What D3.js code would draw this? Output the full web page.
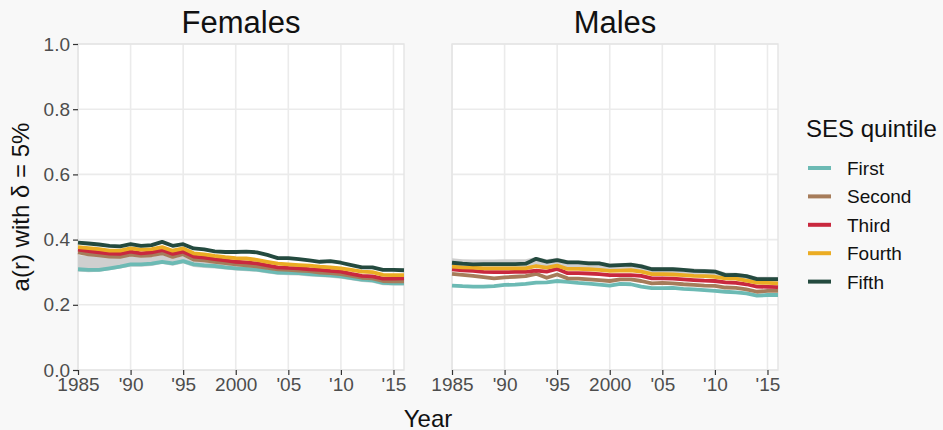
<!DOCTYPE html>
<html>
<head>
<meta charset="utf-8">
<script src="https://cdn.jsdelivr.net/npm/d3@7"></script>
<style>
  html, body { margin: 0; padding: 0; background: #f8f8f8; }
  svg { display: block; font-family: "Liberation Sans", Arial, sans-serif; }
</style>
</head>
<body>
<svg id="chart" width="943" height="430"></svg>
<script>
// ---- data -------------------------------------------------------------
const years = [1985, 1986, 1987, 1988, 1989, 1990, 1991, 1992, 1993, 1994, 1995,
  1996, 1997, 1998, 1999, 2000, 2001, 2002, 2003, 2004, 2005, 2006, 2007, 2008,
  2009, 2010, 2011, 2012, 2013, 2014, 2015, 2016];

const quintiles = ["First", "Second", "Third", "Fourth", "Fifth"];
const quintileColors = ["#6cbab4", "#a67c5a", "#c9283e", "#ebac23", "#244a3f"];

const panels = ["Females", "Males"];

// Females, a(r) by SES quintile
const femFirst  = [.309, .307, .307, .312, .317, .324, .324, .326, .332, .327, .334, .324, .321, .319, .315, .312, .310, .308, .303, .299, .298, .297, .294, .292, .290, .287, .282, .277, .275, .267, .266, .266];
const femSecond = [.361, .355, .352, .348, .347, .354, .350, .352, .358, .347, .355, .339, .336, .332, .328, .324, .321, .318, .313, .309, .307, .305, .303, .299, .297, .294, .289, .283, .281, .273, .272, .272];
const femThird  = [.369, .365, .361, .357, .356, .363, .358, .361, .368, .356, .363, .348, .345, .340, .336, .332, .330, .327, .321, .315, .313, .312, .309, .307, .304, .302, .295, .289, .287, .280, .280, .281];
const femFourth = [.377, .374, .371, .366, .366, .373, .369, .371, .377, .366, .373, .358, .355, .350, .346, .343, .342, .338, .332, .326, .324, .322, .320, .317, .315, .312, .307, .302, .300, .292, .291, .291];
const femFifth  = [.391, .388, .385, .381, .379, .386, .381, .383, .393, .381, .386, .373, .370, .364, .362, .362, .363, .361, .353, .343, .343, .340, .336, .332, .334, .329, .322, .315, .315, .307, .307, .306];
const femBandLow  = [.302, .300, .301, .306, .311, .317, .317, .319, .325, .320, .327, .316, .313, .311, .308, .305, .303, .301, .296, .292, .291, .290, .287, .285, .283, .280, .275, .270, .268, .260, .259, .259];
const femBandHigh = [.353, .350, .348, .345, .344, .350, .346, .348, .353, .343, .350, .335, .332, .328, .324, .320, .317, .314, .309, .305, .303, .301, .299, .295, .293, .290, .285, .279, .277, .269, .268, .268];

// Males, a(r) by SES quintile
const maleFirst  = [.259, .257, .256, .256, .257, .261, .262, .264, .268, .269, .273, .270, .267, .265, .262, .259, .264, .263, .256, .251, .251, .252, .249, .247, .245, .243, .240, .238, .235, .228, .230, .230];
const maleSecond = [.295, .292, .289, .285, .281, .284, .286, .288, .295, .283, .293, .281, .280, .278, .276, .273, .278, .278, .273, .266, .267, .266, .263, .261, .259, .258, .253, .252, .247, .240, .243, .243];
const maleThird  = [.309, .306, .304, .301, .300, .300, .301, .301, .305, .302, .310, .297, .297, .296, .294, .291, .291, .291, .289, .281, .281, .280, .278, .276, .274, .273, .269, .267, .263, .256, .255, .254];
const maleFourth = [.317, .315, .314, .312, .312, .312, .312, .312, .319, .314, .320, .310, .310, .309, .307, .304, .305, .306, .302, .294, .294, .293, .291, .289, .288, .286, .281, .280, .274, .268, .267, .266];
const maleFifth  = [.329, .326, .324, .325, .325, .325, .325, .326, .341, .332, .337, .330, .330, .327, .327, .320, .322, .323, .318, .309, .309, .309, .307, .304, .303, .302, .291, .292, .288, .279, .279, .279];
const maleBandLow  = [.315, .313, .312, .310, .310, .310, .310, .310, .317, .312, .318, .308, .308, .307, .305, .302, .303, .304, .300, .292, .292, .291, .289, .287, .286, .284, .279, .278, .272, .266, .265, .264];
const maleBandHigh = [.343, .340, .339, .339, .339, .340, .340, .340, .347, .340, .344, .337, .336, .334, .333, .327, .328, .329, .325, .316, .315, .315, .313, .311, .310, .309, .299, .298, .294, .286, .286, .285];

const xTicks = [1985, 1990, 1995, 2000, 2005, 2010, 2015];
const xTickLabels = ["1985", "'90", "'95", "2000", "'05", "'10", "'15"];
const yTicks = [0, 0.2, 0.4, 0.6, 0.8, 1.0];
const yTickLabels = ["0.0", "0.2", "0.4", "0.6", "0.8", "1.0"];

const panelSeries = {
  Females: { lines: [femFirst, femSecond, femThird, femFourth, femFifth], low: femBandLow, high: femBandHigh },
  Males:   { lines: [maleFirst, maleSecond, maleThird, maleFourth, maleFifth], low: maleBandLow, high: maleBandHigh }
};

// ---- layout -----------------------------------------------------------
const svg = d3.select("#chart");
const panelLeft = { Females: 78, Males: 452 };
const panelW = 326, panelTop = 44, panelBottom = 370;

const y = d3.scaleLinear().domain([0, 1]).range([panelBottom, panelTop]);

panels.forEach(name => {
  const x0 = panelLeft[name];
  const x = d3.scaleLinear().domain([1985, 2016]).range([x0, x0 + panelW]);
  const g = svg.append("g");

  // panel background
  g.append("rect")
    .attr("x", x0).attr("y", panelTop)
    .attr("width", panelW).attr("height", panelBottom - panelTop)
    .attr("fill", "#ffffff");

  // grid
  g.append("g").selectAll("line").data(yTicks).join("line")
    .attr("x1", x0).attr("x2", x0 + panelW)
    .attr("y1", d => y(d)).attr("y2", d => y(d))
    .attr("stroke", "#ebebeb").attr("stroke-width", 1.6);
  g.append("g").selectAll("line").data(xTicks).join("line")
    .attr("x1", d => x(d)).attr("x2", d => x(d))
    .attr("y1", panelTop).attr("y2", panelBottom)
    .attr("stroke", "#ebebeb").attr("stroke-width", 1.6);

  // panel border
  g.append("rect")
    .attr("x", x0).attr("y", panelTop)
    .attr("width", panelW).attr("height", panelBottom - panelTop)
    .attr("fill", "none").attr("stroke", "#e4e4e4").attr("stroke-width", 1.4);

  const s = panelSeries[name];

  // grey band
  const area = d3.area()
    .x((d, i) => x(years[i]))
    .y0((d, i) => y(s.low[i]))
    .y1((d, i) => y(s.high[i]));
  g.append("path")
    .datum(years)
    .attr("d", area)
    .attr("fill", "#cfcfcf");

  // quintile lines
  const line = d3.line()
    .x((d, i) => x(years[i]))
    .y(d => y(d));
  s.lines.forEach((vals, qi) => {
    g.append("path")
      .datum(vals)
      .attr("d", line)
      .attr("fill", "none")
      .attr("stroke", quintileColors[qi])
      .attr("stroke-width", 3.8)
      .attr("stroke-linejoin", "round");
  });

  // x axis
  const xAxis = d3.axisBottom(x)
    .tickValues(xTicks)
    .tickFormat((d, i) => xTickLabels[i])
    .tickSize(5).tickPadding(3);
  const gx = g.append("g").attr("transform", `translate(0,${panelBottom})`).call(xAxis);
  gx.select(".domain").remove();
  gx.selectAll(".tick line").attr("stroke", "#333").attr("stroke-width", 1.2);
  gx.selectAll(".tick text").attr("fill", "#4d4d4d")
    .style("font-size", "19px").style("font-family", "'Liberation Sans', Arial, sans-serif");

  // facet title
  svg.append("text")
    .attr("x", x0 + panelW / 2).attr("y", 33)
    .attr("text-anchor", "middle")
    .style("font-size", "31px").attr("fill", "#111")
    .text(name);
});

// y axis (left panel only)
const yAxis = d3.axisLeft(y)
  .tickValues(yTicks)
  .tickFormat((d, i) => yTickLabels[i])
  .tickSize(5).tickPadding(3);
const gy = svg.append("g").attr("transform", `translate(${panelLeft.Females},0)`).call(yAxis);
gy.select(".domain").remove();
gy.selectAll(".tick line").attr("stroke", "#333").attr("stroke-width", 1.2);
gy.selectAll(".tick text").attr("fill", "#4d4d4d")
  .style("font-size", "19px").style("font-family", "'Liberation Sans', Arial, sans-serif");

// axis titles
svg.append("text")
  .attr("transform", `translate(29,${(panelTop + panelBottom) / 2}) rotate(-90)`)
  .attr("text-anchor", "middle")
  .style("font-size", "24px").attr("fill", "#111")
  .text("a(r) with δ = 5%");

svg.append("text")
  .attr("x", (panelLeft.Females + panelLeft.Males + panelW) / 2).attr("y", 427)
  .attr("text-anchor", "middle")
  .style("font-size", "24px").attr("fill", "#111")
  .text("Year");

// legend
const legend = svg.append("g");
legend.append("text")
  .attr("x", 806).attr("y", 137)
  .style("font-size", "24px").attr("fill", "#111")
  .text("SES quintile");
const items = legend.selectAll("g.item").data(quintiles).join("g")
  .attr("class", "item")
  .attr("transform", (d, i) => `translate(0,${168 + i * 28.4})`);
items.append("line")
  .attr("x1", 808).attr("x2", 831)
  .attr("stroke", (d, i) => quintileColors[i])
  .attr("stroke-width", 4);
items.append("text")
  .attr("x", 847).attr("y", 7)
  .style("font-size", "19px").attr("fill", "#111")
  .text(d => d);
</script>
</body>
</html>
